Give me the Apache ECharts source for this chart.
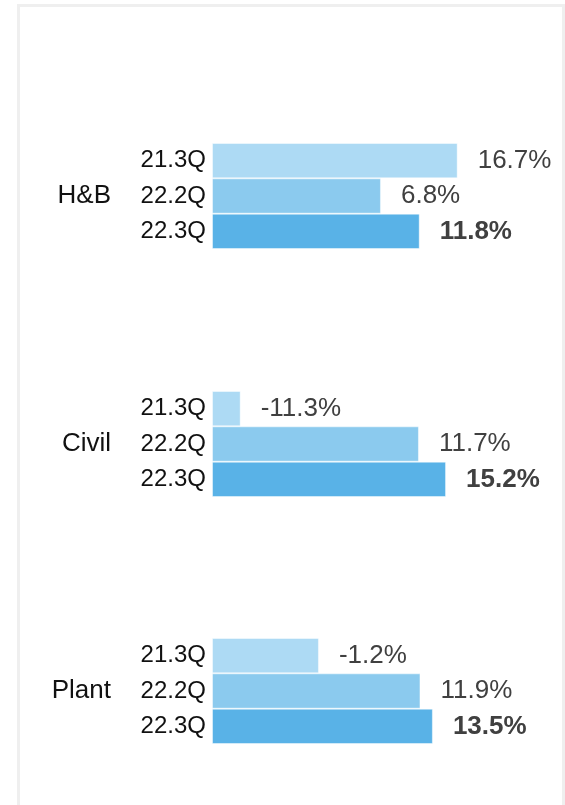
<!DOCTYPE html>
<html>
<head>
<meta charset="utf-8">
<script src="https://cdn.jsdelivr.net/npm/echarts@6/dist/echarts.min.js"></script>
<style>
  html, body { margin: 0; padding: 0; background: #fff; }
  #frame {
    position: absolute; left: 17px; top: 4px;
    width: 548px; height: 900px;
    box-sizing: border-box;
    border: 3px solid #efefef;
  }
  #chart { position: absolute; left: 0; top: 0; width: 565px; height: 805px; }
</style>
</head>
<body>
<div id="frame"></div>
<div id="chart"></div>
<script>
// Datos del gráfico
const groups = ['H&B', 'Civil', 'Plant'];
const quarters = ['21.3Q', '22.2Q', '22.3Q'];
const hbValues = [16.7, 6.8, 11.8];
const civilValues = [-11.3, 11.7, 15.2];
const plantValues = [-1.2, 11.9, 13.5];
const groupValues = [hbValues, civilValues, plantValues];

// Estilos
const barColors = ['#addaf4', '#8bcaee', '#59b2e7'];
const font = '"Liberation Sans", Arial, sans-serif';
const gridTops = [143, 391, 638];

const chart = echarts.init(document.getElementById('chart'), null, { renderer: 'canvas' });

const grids = [];
const xAxes = [];
const yAxes = [];
const series = [];

groups.forEach((name, i) => {
  grids.push({ left: 212, width: 310, top: gridTops[i], height: 106 });

  xAxes.push({
    type: 'value',
    gridIndex: i,
    min: -15,
    max: 25,
    startValue: -15, // las barras arrancan desde el mínimo del eje
    show: false
  });

  yAxes.push({
    type: 'category',
    gridIndex: i,
    data: quarters,
    inverse: true,
    name: name,
    nameLocation: 'middle',
    nameRotate: 0,
    nameGap: 101,
    nameTextStyle: { fontFamily: font, fontSize: 26, color: '#111', align: 'right' },
    axisLine: { show: false },
    axisTick: { show: false },
    axisLabel: { margin: 6, fontFamily: font, fontSize: 24, color: '#111' }
  });

  series.push({
    type: 'bar',
    xAxisIndex: i,
    yAxisIndex: i,
    barCategoryGap: 0,
    data: groupValues[i].map((v, k) => ({
      value: v,
      itemStyle: { color: barColors[k] },
      label: { fontWeight: k === quarters.length - 1 ? 'bold' : 'normal' }
    })),
    itemStyle: { borderColor: 'rgba(255,255,255,0.45)', borderWidth: 1 },
    label: {
      show: true,
      position: 'right',
      distance: 20,
      fontFamily: font,
      fontSize: 26,
      color: '#404040',
      formatter: (p) => p.value.toFixed(1) + '%'
    },
    silent: true,
    animation: false
  });
});

chart.setOption({
  backgroundColor: 'transparent',
  animation: false,
  grid: grids,
  xAxis: xAxes,
  yAxis: yAxes,
  series: series
});

window.addEventListener('resize', () => chart.resize());
</script>
</body>
</html>
